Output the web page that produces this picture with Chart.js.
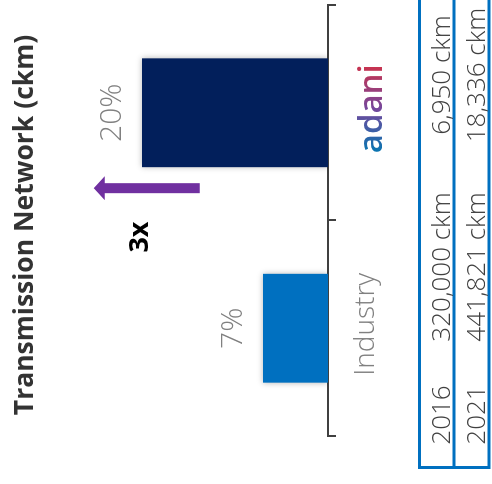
<!DOCTYPE html>
<html>
<head>
<meta charset="utf-8">
<script src="https://cdn.jsdelivr.net/npm/chart.js@4.4.1/dist/chart.umd.min.js"></script>
<style>
    html, body { margin: 0; padding: 0; background: #fff; overflow: hidden; }
    /* the slide is drawn upright and then turned a quarter turn left */
    #wrap {
        position: absolute; left: 0; top: 0;
        width: 484px; height: 492px;
        transform-origin: 0 0;
        transform: translateY(484px) rotate(-90deg);
    }
</style>
</head>
<body>
<div id="wrap"><canvas id="shareChart" width="484" height="492"></canvas></div>
<script>
// ============================================
// Data
// ============================================
const categories = ['Industry', 'adani'];
const shareValues = [7, 20];
const shareLabels = ['7%', '20%'];
const growthLabel = '3x';

const tableYears = ['2016', '2021'];
const industryNetwork = ['320,000 ckm', '441,821 ckm'];
const adaniNetwork = ['6,950 ckm', '18,336 ckm'];

const FONT = '"Open Sans", Lato, sans-serif';

// adani wordmark gradient (blue -> purple -> red)
// tick labels are drawn translated to their own origin, so the gradient is local
function adaniGradient(chart) {
    const g = chart.ctx.createLinearGradient(-42, 0, 42, 0);
    g.addColorStop(0, '#0B74B0');
    g.addColorStop(0.5, '#75479C');
    g.addColorStop(1, '#C8334F');
    return g;
}

// bar shadow
const barShadow = {
    id: 'barShadow',
    beforeDatasetDraw(chart) {
        const ctx = chart.ctx;
        ctx.save();
        ctx.shadowColor = 'rgba(0, 0, 0, 0.28)';
        ctx.shadowBlur = 6;
    },
    afterDatasetDraw(chart) {
        chart.ctx.restore();
    }
};

// title, value labels, arrow and table
const annotations = {
    id: 'annotations',
    afterDraw(chart) {
        const ctx = chart.ctx;
        const xs = chart.scales.x;
        const ys = chart.scales.y;

        ctx.save();

        // title
        ctx.fillStyle = '#333333';
        ctx.font = 'bold 26.5px ' + FONT;
        ctx.textAlign = 'center';
        ctx.textBaseline = 'alphabetic';
        ctx.fillText('Transmission Network (ckm)', 259, 33);

        // value labels above bars
        const meta = chart.getDatasetMeta(0);
        ctx.fillStyle = '#808080';
        ctx.font = '300 30px ' + FONT;
        meta.data.forEach((bar, i) => {
            ctx.fillText(shareLabels[i], bar.x, bar.y - 21);
        });

        // growth arrow
        const ax = xs.getPixelForValue(0.65);
        const yBase = ys.getPixelForValue(13.8);
        const yTip = ys.getPixelForValue(25.2);
        ctx.fillStyle = '#7030A0';
        ctx.beginPath();
        ctx.moveTo(ax - 5, yBase);
        ctx.lineTo(ax - 5, yTip + 11);
        ctx.lineTo(ax - 12, yTip + 11);
        ctx.lineTo(ax, yTip);
        ctx.lineTo(ax + 12, yTip + 11);
        ctx.lineTo(ax + 5, yTip + 11);
        ctx.lineTo(ax + 5, yBase);
        ctx.closePath();
        ctx.fill();

        ctx.fillStyle = '#000';
        ctx.font = 'bold 27px ' + FONT;
        ctx.textBaseline = 'middle';
        ctx.fillText(growthLabel, xs.getPixelForValue(0.423), ys.getPixelForValue(20.2));

        // table
        ctx.strokeStyle = '#0070C0';
        ctx.lineWidth = 3;
        ctx.strokeRect(16.5, 419.5, 490, 69.5);
        ctx.beginPath();
        ctx.moveTo(16.5, 454);
        ctx.lineTo(484, 454);
        ctx.stroke();

        ctx.fillStyle = '#404040';
        ctx.font = '300 26px ' + FONT;
        ctx.textBaseline = 'alphabetic';
        const rowBase = [450, 485];
        tableYears.forEach((yr, i) => {
            ctx.fillText(yr, 69, rowBase[i]);
            ctx.fillText(industryNetwork[i], 217, rowBase[i]);
            ctx.fillText(adaniNetwork[i], 409, rowBase[i]);
        });

        ctx.restore();
    }
};

const ctx = document.getElementById('shareChart').getContext('2d');

new Chart(ctx, {
    type: 'bar',
    data: {
        labels: categories,
        datasets: [{
            data: shareValues,
            backgroundColor: ['#0070C0', '#021F5B'],
            borderWidth: 0,
            categoryPercentage: 1,
            barPercentage: 0.505
        }]
    },
    options: {
        responsive: false,
        animation: false,
        devicePixelRatio: 1,
        layout: {
            padding: { left: 48, right: 5, top: 49, bottom: 82 }
        },
        plugins: {
            legend: { display: false },
            tooltip: { enabled: false },
            title: { display: false }
        },
        scales: {
            x: {
                grid: {
                    offset: true,
                    drawOnChartArea: false,
                    drawTicks: true,
                    tickLength: 8,
                    color: '#404040',
                    lineWidth: 2
                },
                border: { color: '#404040', width: 2 },
                ticks: {
                    padding: 8,
                    labelOffset: 4,
                    font: (c) => c.index === 1
                        ? { family: FONT, size: 33, weight: '600', lineHeight: 58 / 33 }
                        : { family: FONT, size: 28, weight: '300', lineHeight: 1.55 },
                    color: (c) => c.index === 1 ? adaniGradient(c.chart) : '#808080'
                }
            },
            y: {
                display: false,
                min: 0,
                max: 30
            }
        }
    },
    plugins: [barShadow, annotations]
});
</script>
</body>
</html>
